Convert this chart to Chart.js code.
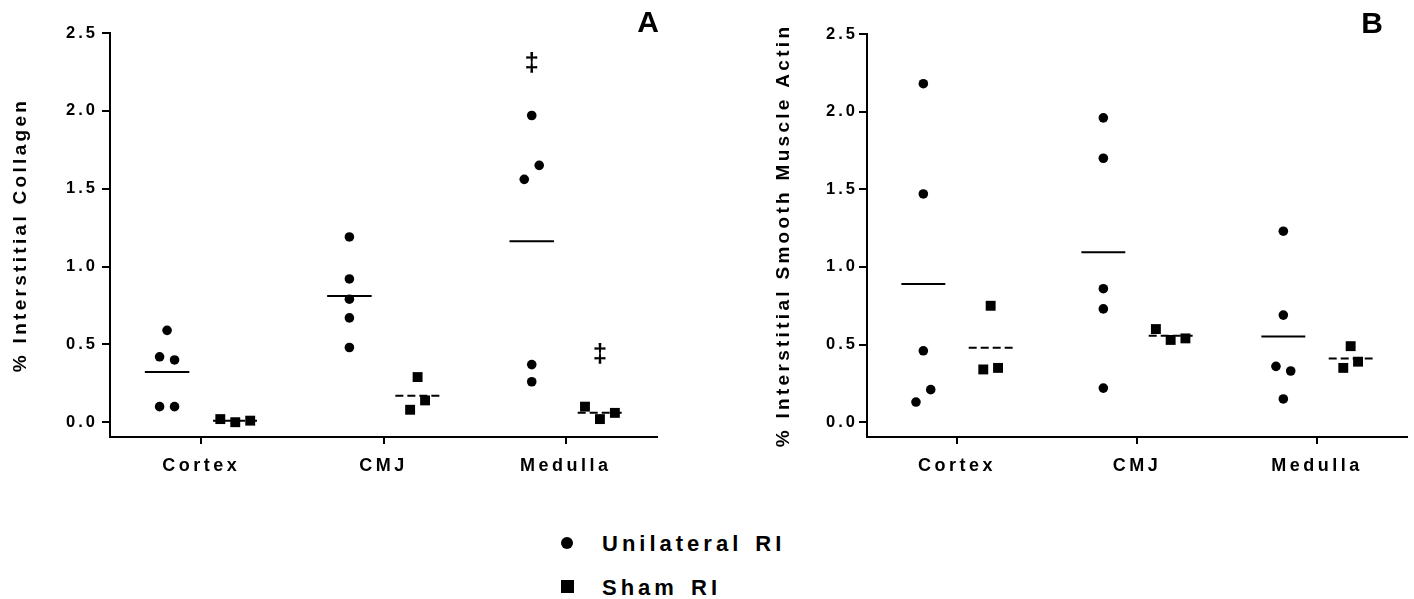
<!DOCTYPE html>
<html>
<head>
<meta charset="utf-8">
<script src="https://cdn.jsdelivr.net/npm/chart.js@4.4.1/dist/chart.umd.min.js"></script>
<style>
  body { margin: 0; background: #fff; width: 1414px; height: 599px; position: relative; overflow: hidden;
         font-family: 'Liberation Sans', Arial, sans-serif; color: #000; }
  canvas { position: absolute; top: 0; }
  #panelA { left: 0; }
  #panelB { left: 757px; }
  .letter { position: absolute; font-weight: bold; font-size: 30px; transform: translate(-50%, -50%); }
  #legend { position: absolute; left: 560px; top: 528px; }
  #legend .row { position: relative; height: 44px; line-height: 32px; padding-left: 42px;
                 font-weight: bold; font-size: 22px; letter-spacing: 4px; word-spacing: 3px; }
  #legend .mark { position: absolute; left: 1px; background: #000; }
  #legend .circle { width: 12px; height: 12px; border-radius: 50%; top: 9px; }
  #legend .square { width: 13px; height: 13px; top: 8px; }
</style>
</head>
<body>
<canvas id="panelA" width="680" height="500"></canvas>
<canvas id="panelB" width="657" height="500"></canvas>
<div class="letter" style="left:648px; top:22px;">A</div>
<div class="letter" style="left:1372px; top:23px;">B</div>
<div id="legend"></div>

<script>
var categories = ['Cortex', 'CMJ', 'Medulla'];
var seriesNames = ['Unilateral RI', 'Sham RI'];
var yTicks = [0, 0.5, 1, 1.5, 2, 2.5];

// panel A: % interstitial collagen, one list per region
var collagenUnilateral = [
	[0.59, 0.42, 0.40, 0.10, 0.10],
	[1.19, 0.92, 0.79, 0.67, 0.48],
	[1.97, 1.56, 1.65, 0.37, 0.26]
];
var collagenSham = [
	[0.02, 0.00, 0.01],
	[0.29, 0.08, 0.14],
	[0.10, 0.02, 0.06]
];
var collagenUnilateralMarks = ['', '', '‡'];
var collagenShamMarks = ['', '', '‡'];

// panel B: % interstitial smooth muscle actin
var smaUnilateral = [
	[2.18, 1.47, 0.46, 0.13, 0.21],
	[1.96, 1.70, 0.86, 0.73, 0.22],
	[1.23, 0.69, 0.36, 0.33, 0.15]
];
var smaSham = [
	[0.75, 0.34, 0.35],
	[0.60, 0.53, 0.54],
	[0.49, 0.35, 0.39]
];

var FONT = "'Liberation Sans', Arial, sans-serif";
var groupShift = 0.187;   // unilateral left of the tick, sham right of it
var meanHalf = 0.122;

function mean (list) {
	return list.reduce(function (a, b) { return a + b; }, 0) / list.length;
}

// points with nearly equal values are spread sideways, like a prism scatter plot
function spread (values, centre) {
	var near = 0.095, gap = 0.082;
	var order = values.map(function (v, i) { return i; })
		.sort(function (a, b) { return values[a] - values[b]; });
	var xs = [], run = [];
	function flush () {
		run.sort(function (a, b) { return a - b; });
		run.forEach(function (idx, k) {
			xs[idx] = centre + (k - (run.length - 1) / 2) * gap;
		});
		run = [];
	}
	order.forEach(function (idx, n) {
		if (n > 0 && values[idx] - values[order[n - 1]] >= near) flush();
		run.push(idx);
	});
	flush();
	return xs;
}

function scatterPoints (groups, shift) {
	var pts = [];
	groups.forEach(function (vals, i) {
		var xs = spread(vals, i + shift);
		vals.forEach(function (v, k) { pts.push({ x: xs[k], y: v }); });
	});
	return pts;
}

function meanSegments (groups, shift) {
	var pts = [];
	groups.forEach(function (vals, i) {
		var m = mean(vals);
		pts.push({ x: i + shift - meanHalf, y: m }, { x: i + shift + meanHalf, y: m }, { x: i + shift, y: null });
	});
	return pts;
}

function spaced (scale, method, spacing) {
	var original = scale[method];
	scale[method] = function () {
		var ctx = this.ctx, before = ctx.letterSpacing;
		ctx.letterSpacing = spacing;
		original.apply(this, arguments);
		ctx.letterSpacing = before;
	};
}

var groupMarks = {
	id: 'groupMarks',
	afterDatasetsDraw: function (chart, args, opts) {
		if (!opts.sets) return;
		var ctx = chart.ctx, xs = chart.scales.x, ys = chart.scales.y;
		ctx.save();
		ctx.font = 'bold 26px ' + FONT;
		ctx.fillStyle = '#000';
		ctx.textAlign = 'center';
		ctx.textBaseline = 'middle';
		opts.sets.forEach(function (set) {
			set.marks.forEach(function (mark, i) {
				if (!mark) return;
				var top = Math.max.apply(null, set.groups[i]);
				ctx.fillText(mark, xs.getPixelForValue(i + set.shift), ys.getPixelForValue(top) - 52);
			});
		});
		ctx.restore();
	}
};

function drawPanel (id, cfg) {
	var unilateral = cfg.unilateral, sham = cfg.sham;

	var data = {
		datasets: [
			{
				label: seriesNames[0],
				data: scatterPoints(unilateral, -groupShift),
				pointStyle: 'circle',
				pointRadius: 4.8,
				backgroundColor: '#000',
				borderColor: '#000',
				borderWidth: 0
			},
			{
				label: seriesNames[1],
				data: scatterPoints(sham, groupShift),
				pointStyle: 'rect',
				pointRadius: 7,
				backgroundColor: '#000',
				borderColor: '#000',
				borderWidth: 0
			},
			{
				label: 'mean ' + seriesNames[0],
				data: meanSegments(unilateral, -groupShift),
				showLine: true,
				spanGaps: false,
				pointRadius: 0,
				borderColor: '#000',
				borderWidth: 2
			},
			{
				label: 'mean ' + seriesNames[1],
				data: meanSegments(sham, groupShift),
				showLine: true,
				spanGaps: false,
				pointRadius: 0,
				borderColor: '#000',
				borderWidth: 2,
				borderDash: [8, 4]
			}
		]
	};

	var options = {
		responsive: false,
		animation: false,
		events: [],
		layout: { padding: cfg.padding },
		plugins: {
			legend: { display: false },
			tooltip: { enabled: false },
			groupMarks: { sets: cfg.marks }
		},
		scales: {
			x: {
				type: 'linear',
				min: -0.5,
				max: 2.5,
				afterBuildTicks: function (axis) {
					axis.ticks = categories.map(function (c, i) { return { value: i }; });
				},
				afterFit: function (axis) {
					axis.height = 50;
					if (!axis._spaced) { spaced(axis, 'drawLabels', '3.5px'); axis._spaced = true; }
				},
				ticks: {
					autoSkip: false,
					maxRotation: 0,
					padding: 11,
					color: '#000',
					font: { family: FONT, size: 18, weight: 'bold' },
					callback: function (v) { return categories[v]; }
				},
				grid: { drawOnChartArea: false, color: '#000', lineWidth: 2, tickLength: 7 },
				border: { color: '#000', width: 2 }
			},
			y: {
				type: 'linear',
				min: -0.095,
				max: 2.5,
				afterBuildTicks: function (axis) {
					axis.ticks = yTicks.map(function (v) { return { value: v }; });
				},
				afterFit: function (axis) {
					axis.width = 110;
					if (!axis._spaced) {
						spaced(axis, 'drawLabels', '3px');
						spaced(axis, 'drawTitle', '3.3px');
						axis._spaced = true;
					}
				},
				ticks: {
					padding: cfg.tickPad,
					color: '#000',
					font: { family: FONT, size: 16.5, weight: 'bold' },
					callback: function (v) { return v.toFixed(1); }
				},
				grid: { drawOnChartArea: false, color: '#000', lineWidth: 2, tickLength: 8 },
				border: { color: '#000', width: 2 },
				title: {
					display: true,
					text: cfg.title,
					color: '#000',
					padding: { top: cfg.titlePad, bottom: 0 },
					font: { family: FONT, size: 19, weight: 'bold' }
				}
			}
		}
	};

	return new Chart(document.getElementById(id), {
		type: 'scatter',
		data: data,
		options: options,
		plugins: [groupMarks]
	});
}

drawPanel('panelA', {
	unilateral: collagenUnilateral,
	sham: collagenSham,
	title: '% Interstitial Collagen',
	padding: { left: 0, right: 23, top: 33, bottom: 13 },
	tickPad: 4,
	titlePad: 9,
	marks: [
		{ groups: collagenUnilateral, marks: collagenUnilateralMarks, shift: -groupShift },
		{ groups: collagenSham, marks: collagenShamMarks, shift: groupShift }
	]
});

drawPanel('panelB', {
	unilateral: smaUnilateral,
	sham: smaSham,
	title: '% Interstitial Smooth Muscle Actin',
	padding: { left: 0, right: 3, top: 34, bottom: 13 },
	tickPad: 1,
	titlePad: 15,
	marks: []
});

// legend below both panels
var legend = document.getElementById('legend');
seriesNames.forEach(function (name, i) {
	var row = document.createElement('div');
	row.className = 'row';
	var mark = document.createElement('span');
	mark.className = 'mark ' + (i === 0 ? 'circle' : 'square');
	row.appendChild(mark);
	row.appendChild(document.createTextNode(name));
	legend.appendChild(row);
});
</script>
</body>
</html>
